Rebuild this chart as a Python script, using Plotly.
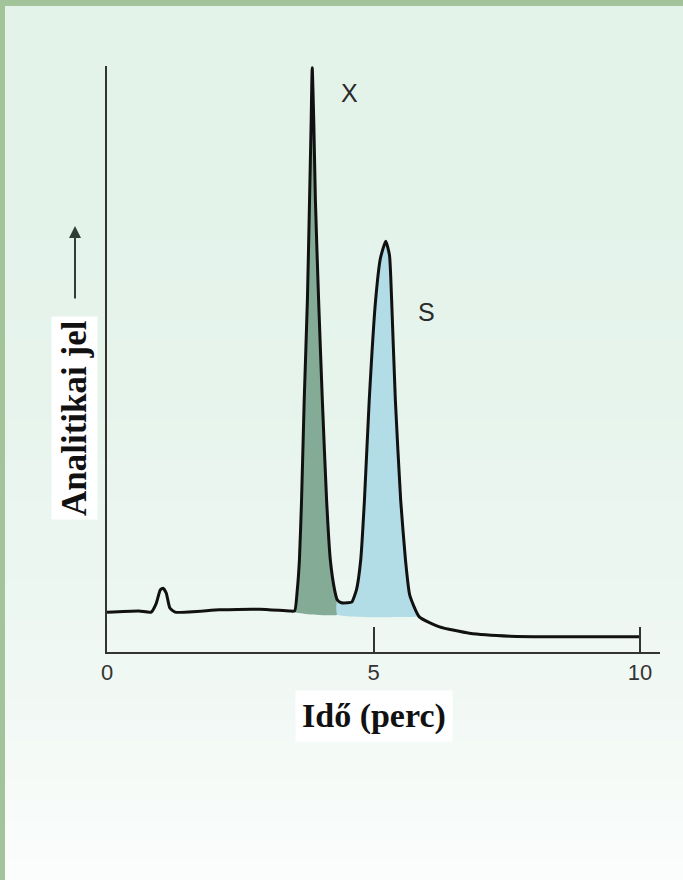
import numpy as np
import plotly.graph_objects as go

# ---- data ----
time_min = [0.00, 0.60, 0.83, 0.92, 1.00, 1.05, 1.11, 1.18, 1.28, 2.11, 2.86, 3.42,
            3.52, 3.57, 3.61, 3.65, 3.70, 3.76, 3.80, 3.83, 3.85, 3.88, 3.91, 3.97,
            4.04, 4.12, 4.19, 4.27, 4.32, 4.40, 4.51, 4.59, 4.68, 4.76, 4.83, 4.92,
            5.04, 5.13, 5.23, 5.30, 5.34, 5.41, 5.51, 5.60, 5.68, 5.86, 6.24, 6.80,
            7.56, 8.50, 10.00]
signal = [6.8, 7.0, 6.8, 8.2, 10.6, 10.9, 10.1, 7.5, 6.8, 7.2, 7.3, 7.0,
          7.0, 10.6, 15.7, 25.9, 43.0, 60.1, 77.1, 90.3, 99.7, 90.3, 77.1, 60.1,
          43.0, 25.9, 15.7, 10.6, 8.9, 8.4, 8.4, 8.5, 10.6, 15.7, 25.9, 43.0,
          60.1, 67.2, 70.1, 67.7, 60.1, 43.0, 25.9, 15.7, 9.7, 6.0, 4.3, 3.2,
          2.7, 2.6, 2.6]

tick_vals = [0, 5, 10]
tick_text = ["0", "5", "10"]
peak_names = ["X", "S"]
peak_label_x = [4.55, 6.0]
peak_label_y = [95.4, 58.0]

# integration limits (minutes) and baseline levels under the peaks
x_fill_start, x_split, x_fill_end = 3.52, 4.32, 5.86
base_start, base_split, base_end = 6.8, 6.4, 6.0

t = np.array(time_min)
s = np.array(signal)


def region(x0, x1, b0, b1):
    inner = (t > x0) & (t < x1)
    xs = np.concatenate([[x0], t[inner], [x1]])
    ys = np.concatenate([[np.interp(x0, t, s)], s[inner], [np.interp(x1, t, s)]])
    xs = np.concatenate([xs, [x1, x0, x0]])
    ys = np.concatenate([ys, [b1, b0, ys[0]]])
    return xs, ys


W, H = 683, 880
ML, MR, MT, MB = 107, 23, 66, 228
PW, PH = W - ML - MR, H - MT - MB


def pxx(x):
    return (x - ML) / PW


def pxy(y):
    return (H - MB - y) / PH


fig = go.Figure()

gx, gy = region(x_fill_start, x_split, base_start, base_split)
fig.add_trace(go.Scatter(x=gx, y=gy, mode="lines", fill="toself",
                         fillcolor="#84ab96",
                         line=dict(width=0, shape="spline", smoothing=0.5),
                         hoverinfo="skip", showlegend=False))
bx, by = region(x_split, x_fill_end, base_split, base_end)
fig.add_trace(go.Scatter(x=bx, y=by, mode="lines", fill="toself",
                         fillcolor="#b2dde7",
                         line=dict(width=0, shape="spline", smoothing=0.5),
                         hoverinfo="skip", showlegend=False))
fig.add_trace(go.Scatter(x=time_min, y=signal, mode="lines",
                         line=dict(color="#111111", width=3,
                                   shape="spline", smoothing=0.5),
                         showlegend=False))

# background gradient + green frame
shapes = []
n = 44
top = np.array([0xe3, 0xf3, 0xea])
bot = np.array([0xfb, 0xfd, 0xfc])
for i in range(n):
    y0 = H * i / n
    y1 = H * (i + 1) / n
    f = (i / (n - 1)) ** 2.2
    c = top + (bot - top) * f
    shapes.append(dict(type="rect", xref="paper", yref="paper", layer="below",
                       x0=pxx(0), x1=pxx(W), y0=pxy(y1), y1=pxy(y0),
                       fillcolor="rgb(%d,%d,%d)" % tuple(c.astype(int)),
                       line=dict(width=0)))
shapes.append(dict(type="rect", xref="paper", yref="paper", layer="below",
                   x0=pxx(0), x1=pxx(W), y0=pxy(6), y1=pxy(0),
                   fillcolor="#a3c39b", line=dict(width=0)))
shapes.append(dict(type="rect", xref="paper", yref="paper", layer="below",
                   x0=pxx(0), x1=pxx(5), y0=pxy(H), y1=pxy(0),
                   fillcolor="#a3c39b", line=dict(width=0)))

serif = "Liberation Serif, Times New Roman, serif"
sans = "Arial, Liberation Sans, sans-serif"
annotations = [
    dict(text="<b>Idő (perc)</b>", xref="paper", yref="paper",
         x=pxx(374), y=pxy(716), xanchor="center", yanchor="middle",
         showarrow=False, font=dict(family=serif, size=34, color="#111"),
         bgcolor="white", borderpad=6),
    dict(text="<b>Analitikai jel</b>", xref="paper", yref="paper",
         x=pxx(74), y=pxy(418), xanchor="center", yanchor="middle",
         showarrow=False, textangle=-90,
         font=dict(family=serif, size=35, color="#111"),
         bgcolor="white", borderpad=3),
    dict(text="", xref="paper", yref="paper", x=pxx(75), y=pxy(226),
         showarrow=True, ax=0, ay=74, arrowhead=2, arrowsize=1.2,
         arrowwidth=2, arrowcolor="#2f3f38"),
]
for name, lx, ly in zip(peak_names, peak_label_x, peak_label_y):
    annotations.append(dict(text=name, x=lx, y=ly, xref="x", yref="y",
                            xanchor="center", yanchor="middle",
                            showarrow=False,
                            font=dict(family=sans, size=25, color="#2a2a2a")))

fig.update_layout(
    width=W, height=H,
    margin=dict(l=ML, r=MR, t=MT, b=MB),
    paper_bgcolor="#f4faf6",
    plot_bgcolor="rgba(0,0,0,0)",
    shapes=shapes,
    annotations=annotations,
    xaxis=dict(range=[0, PW / 53.3], showgrid=False, zeroline=False,
               showline=True, linecolor="#333", linewidth=1.5,
               ticks="inside", ticklen=25, tickwidth=1.5, tickcolor="#333",
               tickvals=tick_vals, ticktext=tick_text,
               tickfont=dict(family=sans, size=22, color="#333")),
    yaxis=dict(range=[0, 100], showgrid=False, zeroline=False,
               showline=True, linecolor="#333", linewidth=1.5,
               ticks="", showticklabels=False),
)

fig.write_html("out.html", config={"displayModeBar": False},
               post_script="document.body.style.margin='0';document.body.style.padding='0';")
